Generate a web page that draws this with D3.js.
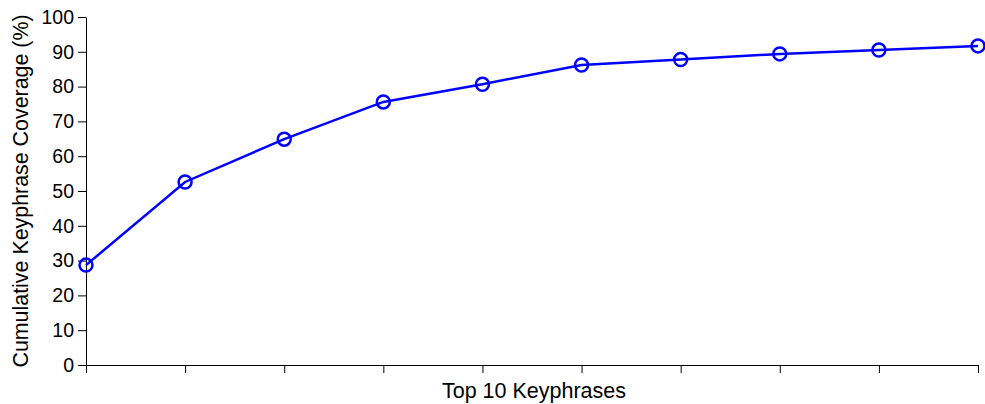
<!DOCTYPE html>
<html>
<head>
<meta charset="utf-8">
<script src="https://cdn.jsdelivr.net/npm/d3@7"></script>
<style>
  body { margin: 0; background: #fff; }
  svg { display: block; font-family: "Liberation Sans", Arial, sans-serif; }
</style>
</head>
<body>
<div id="chart"></div>
<script>
// cumulative coverage of the top 10 keyphrases
const ranks = [1, 2, 3, 4, 5, 6, 7, 8, 9, 10];
const coverage = [28.7, 52.6, 64.9, 75.6, 80.7, 86.2, 87.8, 89.4, 90.5, 91.7];
const yTicks = [0, 10, 20, 30, 40, 50, 60, 70, 80, 90, 100];

const WIDTH = 985, HEIGHT = 404;
const margin = { top: 17, right: 7, bottom: 39, left: 86 };

const svg = d3.select('#chart').append('svg')
  .attr('width', WIDTH)
  .attr('height', HEIGHT);

const x = d3.scaleLinear()
  .domain([1, 10])
  .range([margin.left, WIDTH - margin.right]);

const y = d3.scaleLinear()
  .domain([0, 100])
  .range([HEIGHT - margin.bottom, margin.top]);

const xAxis = svg.append('g')
  .attr('transform', `translate(0,${HEIGHT - margin.bottom})`)
  .call(d3.axisBottom(x).tickValues(ranks).tickFormat('').tickSize(8).tickSizeOuter(0));

const yAxis = svg.append('g')
  .attr('transform', `translate(${margin.left},0)`)
  .call(d3.axisLeft(y).tickValues(yTicks).tickSize(8).tickSizeOuter(0).tickPadding(4));

[xAxis, yAxis].forEach(g => {
  g.selectAll('path, line').attr('stroke', '#000').attr('stroke-width', 1);
  g.selectAll('text').attr('fill', '#000').style('font-size', '19.5px');
});

svg.append('text')
  .attr('x', 534)
  .attr('y', 398)
  .attr('text-anchor', 'middle')
  .style('font-size', '21.5px')
  .text('Top 10 Keyphrases');

svg.append('text')
  .attr('transform', `translate(28,191) rotate(-90)`)
  .attr('text-anchor', 'middle')
  .style('font-size', '21.4px')
  .text('Cumulative Keyphrase Coverage (%)');

const pts = ranks.map((r, i) => [r, coverage[i]]);

svg.append('path')
  .datum(pts)
  .attr('fill', 'none')
  .attr('stroke', '#0000ff')
  .attr('stroke-width', 2.5)
  .attr('d', d3.line().x(d => x(d[0])).y(d => y(d[1])));

svg.selectAll('circle')
  .data(pts)
  .enter()
  .append('circle')
  .attr('cx', d => x(d[0]))
  .attr('cy', d => y(d[1]))
  .attr('r', 6.5)
  .attr('fill', 'none')
  .attr('stroke', '#0000ff')
  .attr('stroke-width', 2.5);
</script>
</body>
</html>
